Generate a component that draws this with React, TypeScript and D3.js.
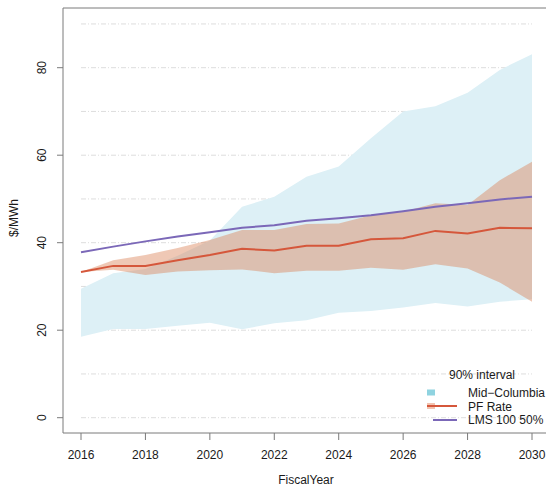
import React from "react";
import * as d3 from "d3";

const years = [2016, 2017, 2018, 2019, 2020, 2021, 2022, 2023, 2024, 2025, 2026, 2027, 2028, 2029, 2030];
const midcUpper = [29.5, 33, 34, 37, 40.5, 48.2, 50.5, 55.1, 57.4, 63.9, 70.0, 71.2, 74.3, 79.5, 83.1];
const midcLower = [18.5, 20.3, 20.3, 21, 21.7, 20.2, 21.6, 22.3, 24.0, 24.4, 25.2, 26.2, 25.4, 26.5, 27.1];
const pfUpper = [33.3, 36.0, 37.2, 38.8, 40.6, 42.9, 42.9, 44.3, 44.4, 46.3, 47.1, 49.0, 48.6, 54.3, 58.5];
const pfLower = [33.3, 33.8, 32.6, 33.4, 33.7, 33.9, 33.0, 33.6, 33.6, 34.3, 33.8, 35.1, 34.1, 30.9, 26.5];
const pfRate = [33.3, 34.7, 34.7, 36.0, 37.2, 38.6, 38.2, 39.3, 39.3, 40.8, 41.0, 42.7, 42.1, 43.4, 43.3];
const lms = [37.8, 39.1, 40.3, 41.4, 42.4, 43.4, 44.0, 45.0, 45.6, 46.3, 47.2, 48.2, 49.0, 49.9, 50.5];
const xTicks = [2016, 2018, 2020, 2022, 2024, 2026, 2028, 2030];
const yTicks = [0, 20, 40, 60, 80];
const gridValues = [0, 10, 20, 30, 40, 50, 60, 70, 80, 90];
const legendLabels = ["Mid\u2212Columbia", "PF Rate", "LMS 100 50%"];

export default function App() {
  const W = 546, H = 488;
  const x = d3.scaleLinear().domain([2016, 2030]).range([81, 532]);
  const y = d3.scaleLinear().domain([0, 80]).range([417.7, 67.7]);
  const font = "Liberation Sans, Arial, Helvetica, sans-serif";

  const band = (up: number[], lo: number[]) =>
    d3.area<number>()
      .x((_, i) => x(years[i]))
      .y0((_, i) => y(lo[i]))
      .y1((_, i) => y(up[i]))(years) || "";
  const line = (v: number[]) =>
    d3.line<number>().x((_, i) => x(years[i])).y((_, i) => y(v[i]))(years) || "";

  const left = 63, top = 8, bottom = 433;
  const axisColor = "#7a7a7a";
  const textColor = "#1a1a1a";

  return (
    <svg width={W} height={H} style={{ position: "absolute", left: 0, top: 0, background: "#fff" }} fontFamily={font}>
      {gridValues.map((g) => (
        <line key={g} x1={x(2016)} x2={x(2030)} y1={y(g)} y2={y(g)} stroke="#dddddd" strokeWidth={1} strokeDasharray="5,2,1,2" />
      ))}
      <path d={band(midcUpper, midcLower)} fill="#ddf0f6" />
      <path d={band(pfUpper, pfLower)} fill="#da8054" fillOpacity={0.43} />
      <path d={line(pfRate)} fill="none" stroke="#d5573b" strokeWidth={2} />
      <path d={line(lms)} fill="none" stroke="#7b68b8" strokeWidth={2} />

      {/* box */}
      <line x1={left} x2={W + 5} y1={top} y2={top} stroke={axisColor} strokeWidth={1} />
      <line x1={left} x2={left} y1={top} y2={bottom} stroke={axisColor} strokeWidth={1} />
      <line x1={left} x2={W + 5} y1={bottom} y2={bottom} stroke={axisColor} strokeWidth={1} />

      {xTicks.map((t) => (
        <g key={t}>
          <line x1={x(t)} x2={x(t)} y1={bottom} y2={bottom + 7} stroke={axisColor} />
          <text x={x(t)} y={459} textAnchor="middle" fontSize={12} fill={textColor}>{t}</text>
        </g>
      ))}
      {yTicks.map((t) => (
        <g key={t}>
          <line x1={left - 6} x2={left} y1={y(t)} y2={y(t)} stroke={axisColor} />
          <text transform={`translate(46,${y(t)}) rotate(-90)`} textAnchor="middle" fontSize={12} fill={textColor}>{t}</text>
        </g>
      ))}
      <text x={306} y={484} textAnchor="middle" fontSize={12} fill={textColor}>FiscalYear</text>
      <text transform={`translate(18,218) rotate(-90)`} textAnchor="middle" fontSize={12} fill={textColor}>$/MWh</text>

      {/* legend */}
      <text x={482} y={379} textAnchor="middle" fontSize={12} fill={textColor}>90% interval</text>
      <rect x={427} y={389.5} width={8} height={6} fill="#8fd3e0" />
      <rect x={427} y={403} width={8} height={6} fill="#f2c3b0" />
      <line x1={427} x2={457} y1={406} y2={406} stroke="#d5573b" strokeWidth={2} />
      <line x1={433} x2={457} y1={420} y2={420} stroke="#7b68b8" strokeWidth={2} />
      {legendLabels.map((l, i) => (
        <text key={l} x={468} y={397 + i * 13.5} fontSize={12} fill={textColor}>{l}</text>
      ))}
    </svg>
  );
}
